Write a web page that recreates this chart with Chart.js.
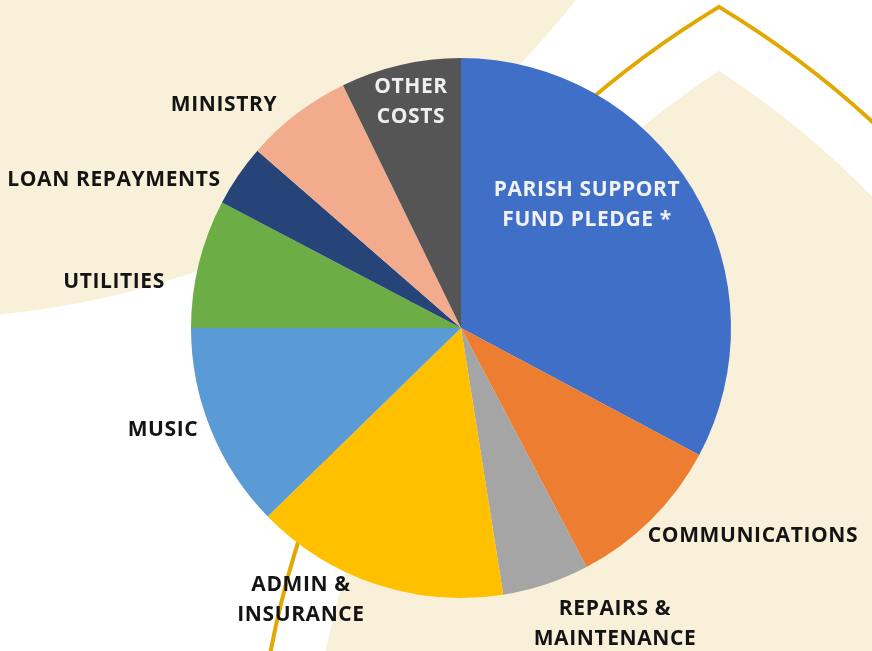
<!DOCTYPE html>
<html>
<head>
<meta charset="utf-8">
<script src="https://cdn.jsdelivr.net/npm/chart.js@4"></script>
<style>
  html, body { margin: 0; padding: 0; background: #ffffff; }
  #wrap { width: 872px; height: 651px; position: relative; }
</style>
</head>
<body>
<div id="wrap"><canvas id="c"></canvas></div>
<script>
// ---- data (percent of total) ----
const categories = [
  'PARISH SUPPORT FUND PLEDGE *',
  'COMMUNICATIONS',
  'REPAIRS & MAINTENANCE',
  'ADMIN & INSURANCE',
  'MUSIC',
  'UTILITIES',
  'LOAN REPAYMENTS',
  'MINISTRY',
  'OTHER COSTS'
];
const shares = [32.8, 9.5, 5.2, 15.2, 12.3, 7.7, 3.7, 6.4, 7.2];
const sliceColors = ['#3F6FC7', '#ED7D31', '#A5A5A5', '#FFC000', '#5B9BD5', '#6CAD45', '#264478', '#F2AB8D', '#555555'];

// label text lines and where they sit (pixel anchors, line centres)
const labelLines = [
  ['PARISH SUPPORT', 'FUND PLEDGE *'],
  ['COMMUNICATIONS'],
  ['REPAIRS &', 'MAINTENANCE'],
  ['ADMIN &', 'INSURANCE'],
  ['MUSIC'],
  ['UTILITIES'],
  ['LOAN REPAYMENTS'],
  ['MINISTRY'],
  ['OTHER', 'COSTS']
];
const labelAnchors = [[587, 190], [753, 536], [615, 609], [301, 585], [163, 430], [114, 282], [114, 180], [224, 105], [411, 87]];
const labelColors = ['#F2F2F2', '#141414', '#141414', '#141414', '#141414', '#141414', '#141414', '#141414', '#EFEFEF'];

const CREAM = '#F9F0DA';
const GOLD = '#E2A700';

const backdrop = {
  id: 'backdrop',
  beforeDraw(chart) {
    const ctx = chart.ctx;
    const W = chart.width, H = chart.height;
    ctx.save();
    ctx.fillStyle = '#ffffff';
    ctx.fillRect(0, 0, W, H);
    // top-left cream disc
    ctx.fillStyle = CREAM;
    ctx.beginPath();
    ctx.arc(-78, -513, 831, 0, Math.PI * 2);
    ctx.fill();
    // pointed arch helper (two circles, centres symmetric about x = 719)
    function arch(r) {
      const cy = 831.9, ax = 1217.6, bx = 220.4;
      const d = (ax - bx) / 2;
      const h = Math.sqrt(r * r - d * d);
      const aTop = Math.atan2(-h, -d), aBot = Math.atan2(h, -d);
      const bBot = Math.atan2(h, d), bTop = Math.atan2(-h, d);
      ctx.beginPath();
      ctx.arc(ax, cy, r, aTop, aBot, true);
      ctx.arc(bx, cy, r, bBot, bTop, true);
      ctx.closePath();
    }
    arch(910);
    ctx.fillStyle = CREAM;
    ctx.fill();
    arch(964);
    ctx.strokeStyle = GOLD;
    ctx.lineWidth = 4;
    ctx.lineJoin = 'miter';
    ctx.stroke();
    ctx.restore();
  }
};

const sliceLabels = {
  id: 'sliceLabels',
  afterDatasetsDraw(chart) {
    const ctx = chart.ctx;
    ctx.save();
    ctx.font = 'bold 21px "Open Sans", "DejaVu Sans", sans-serif';
    if ('letterSpacing' in ctx) ctx.letterSpacing = '0.6px';
    ctx.textAlign = 'center';
    ctx.textBaseline = 'middle';
    labelLines.forEach((lines, i) => {
      ctx.fillStyle = labelColors[i];
      const [x, y] = labelAnchors[i];
      lines.forEach((t, k) => ctx.fillText(t, x, y + k * 30.5));
    });
    ctx.restore();
  }
};

new Chart(document.getElementById('c'), {
  type: 'pie',
  data: {
    labels: categories,
    datasets: [{
      data: shares,
      backgroundColor: sliceColors,
      borderWidth: 0
    }]
  },
  options: {
    responsive: true,
    maintainAspectRatio: false,
    animation: false,
    layout: { padding: { left: 191, right: 141, top: 58, bottom: 53 } },
    plugins: {
      legend: { display: false },
      tooltip: { enabled: false }
    }
  },
  plugins: [backdrop, sliceLabels]
});
</script>
</body>
</html>
